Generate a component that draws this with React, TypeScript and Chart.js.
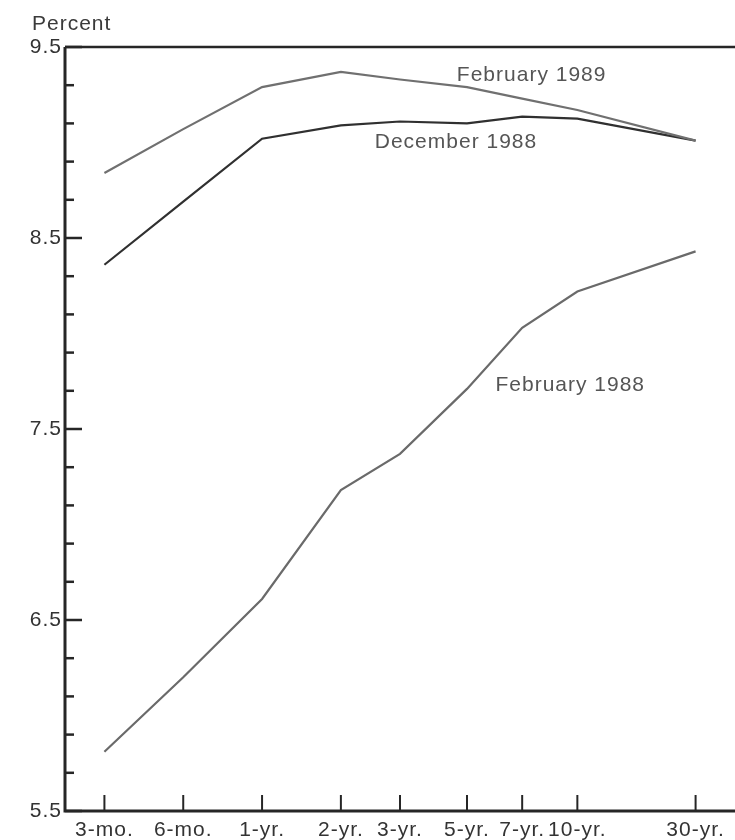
import React, { useEffect, useRef } from "react";
import { Chart, registerables } from "chart.js";

Chart.register(...registerables);

// ---- data ----
const maturityLabels = ["3-mo.", "6-mo.", "1-yr.", "2-yr.", "3-yr.", "5-yr.", "7-yr.", "10-yr.", "30-yr."];
const maturityPositions = [0, 1, 2, 3, 3.75, 4.6, 5.3, 6.0, 7.5];

const feb1989 = [8.84, 9.07, 9.29, 9.37, 9.33, 9.29, 9.23, 9.17, 9.01];
const dec1988 = [8.36, 8.69, 9.02, 9.09, 9.11, 9.10, 9.135, 9.125, 9.01];
const feb1988 = [5.81, 6.2, 6.61, 7.18, 7.37, 7.71, 8.03, 8.22, 8.43];

const seriesNames = ["February 1989", "December 1988", "February 1988"];

const yTickValues = [5.5, 5.7, 5.9, 6.1, 6.3, 6.5, 6.7, 6.9, 7.1, 7.3, 7.5, 7.7, 7.9, 8.1, 8.3, 8.5, 8.7, 8.9, 9.1, 9.3, 9.5];
const yLabelValues = [5.5, 6.5, 7.5, 8.5, 9.5];

const FONT = "'Liberation Sans', Arial, Helvetica, sans-serif";

export default function App() {
  const ref = useRef<HTMLCanvasElement | null>(null);

  useEffect(() => {
    const canvas = ref.current;
    if (!canvas) return;

    const toPoints = (vals: number[]) => vals.map((v, i) => ({ x: maturityPositions[i], y: v }));

    // series label anchors in data units (maturity position, percent)
    const seriesLabelAnchors = [
      { text: seriesNames[0], x: 5.42, y: 9.35 },
      { text: seriesNames[1], x: 4.46, y: 9.0 },
      { text: seriesNames[2], x: 5.91, y: 7.73 },
    ];

    const spacing = {
      id: "spacing",
      beforeUpdate(chart: any) {
        chart.ctx.letterSpacing = "1px";
      },
      beforeDraw(chart: any) {
        chart.ctx.letterSpacing = "1px";
      },
    };

    const decor = {
      id: "decor",
      afterDraw(chart: any) {
        const ctx = chart.ctx;
        const { left, right, top, bottom } = chart.chartArea;
        const xs = chart.scales.x;
        const ys = chart.scales.y;
        ctx.save();
        ctx.strokeStyle = "#262626";
        ctx.lineCap = "butt";
        // frame lines
        ctx.lineWidth = 3;
        ctx.beginPath();
        ctx.moveTo(left, top);
        ctx.lineTo(left, bottom);
        ctx.lineTo(right, bottom);
        ctx.stroke();
        ctx.lineWidth = 2.5;
        ctx.beginPath();
        ctx.moveTo(left, top);
        ctx.lineTo(right, top);
        ctx.stroke();
        // y ticks (inside)
        ctx.lineWidth = 2.5;
        yTickValues.forEach((v) => {
          const py = ys.getPixelForValue(v);
          const len = yLabelValues.includes(v) ? 17 : 9;
          ctx.beginPath();
          ctx.moveTo(left, py);
          ctx.lineTo(left + len, py);
          ctx.stroke();
        });
        // x ticks (inside)
        ctx.lineWidth = 2;
        maturityPositions.forEach((v) => {
          const px = xs.getPixelForValue(v);
          ctx.beginPath();
          ctx.moveTo(px, bottom);
          ctx.lineTo(px, bottom - 16);
          ctx.stroke();
        });
        // axis title
        ctx.letterSpacing = "1px";
        ctx.fillStyle = "#3a3a3a";
        ctx.font = `21px ${FONT}`;
        ctx.textAlign = "left";
        ctx.textBaseline = "middle";
        ctx.fillText("Percent", 32, 24);
        // series labels
        ctx.fillStyle = "#555555";
        ctx.textAlign = "center";
        seriesLabelAnchors.forEach((a) => {
          ctx.fillText(a.text, xs.getPixelForValue(a.x), ys.getPixelForValue(a.y));
        });
        ctx.restore();
      },
    };

    const chart = new Chart(canvas, {
      type: "line",
      data: {
        datasets: [
          {
            label: seriesNames[0],
            data: toPoints(feb1989),
            borderColor: "#707070",
            borderWidth: 2.2,
            pointRadius: 0,
            tension: 0,
          },
          {
            label: seriesNames[1],
            data: toPoints(dec1988),
            borderColor: "#303030",
            borderWidth: 2.2,
            pointRadius: 0,
            tension: 0,
          },
          {
            label: seriesNames[2],
            data: toPoints(feb1988),
            borderColor: "#6a6a6a",
            borderWidth: 2.2,
            pointRadius: 0,
            tension: 0,
          },
        ],
      },
      options: {
        responsive: false,
        animation: false,
        layout: { padding: { top: 47, left: 0, right: 0, bottom: 0 } },
        plugins: { legend: { display: false }, tooltip: { enabled: false } },
        scales: {
          x: {
            type: "linear",
            min: -0.5,
            max: 8,
            afterBuildTicks: (s: any) => {
              s.ticks = maturityPositions.map((v) => ({ value: v }));
            },
            afterFit: (s: any) => {
              s.height = 29;
            },
            grid: { display: false, drawTicks: false },
            border: { display: false },
            ticks: {
              autoSkip: false,
              maxRotation: 0,
              padding: 7,
              color: "#333333",
              font: { family: FONT, size: 21 },
              callback: (_v: any, i: number) => maturityLabels[i],
            },
          },
          y: {
            type: "linear",
            min: 5.5,
            max: 9.5,
            afterBuildTicks: (s: any) => {
              s.ticks = yTickValues.map((v) => ({ value: v }));
            },
            afterFit: (s: any) => {
              s.width = 65;
            },
            grid: { display: false, drawTicks: false },
            border: { display: false },
            ticks: {
              autoSkip: false,
              padding: 3,
              color: "#333333",
              font: { family: FONT, size: 21 },
              callback: (v: any) => (yLabelValues.includes(v) ? Number(v).toFixed(1) : ""),
            },
          },
        },
      },
      plugins: [spacing, decor],
    } as any);

    return () => chart.destroy();
  }, []);

  return (
    <div style={{ position: "absolute", left: 0, top: 0, width: 735, height: 840, background: "#fff" }}>
      <canvas ref={ref} width={735} height={840} style={{ display: "block" }} />
    </div>
  );
}
